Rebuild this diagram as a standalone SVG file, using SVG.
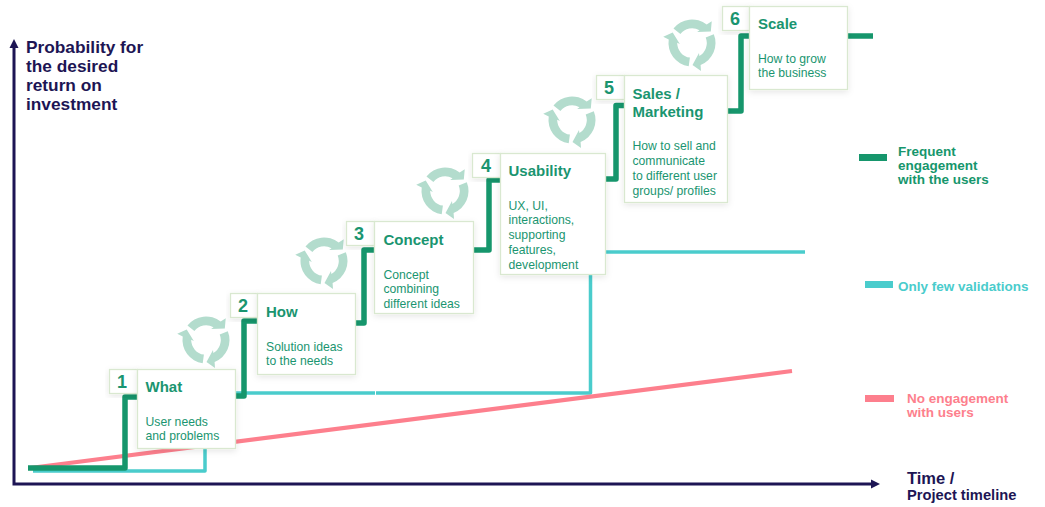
<svg xmlns="http://www.w3.org/2000/svg" xmlns:xlink="http://www.w3.org/1999/xlink" width="1045" height="507" viewBox="0 0 1045 507">
<style>
text{font-family:"Liberation Sans",Arial,sans-serif}
.box{fill:#fff;stroke:#d9e8d0;stroke-width:1.3;filter:url(#sh)}
.num{fill:#fff;stroke:#d9e8d0;stroke-width:1.3;filter:url(#sh)}
.n{font-size:18px;font-weight:700;fill:#1a9570;text-anchor:middle}
.t{font-size:15px;font-weight:700;fill:#1a9570}
.b{font-size:12.2px;fill:#1a9570}
.ax{font-weight:700;fill:#1d1554}
.lg{font-size:13.5px;font-weight:700}
.f,.v,.p{fill:none}
.f{stroke:#16966c;stroke-width:5.5;stroke-linejoin:round}
.v{stroke:#4acccc;stroke-width:3.5;stroke-linejoin:round}
.p{stroke:#fd7f8d;stroke-width:4.2}
.axis{fill:none;stroke:#1d1554;stroke-width:3;stroke-linejoin:miter}
.cy{fill:#b3dccd}
</style>
<defs>
<filter id="sh" x="-15%" y="-15%" width="130%" height="130%"><feDropShadow dx="0" dy="2" stdDeviation="3" flood-color="#000" flood-opacity="0.10"/></filter>
<marker id="ah" markerUnits="userSpaceOnUse" markerWidth="10" markerHeight="10" refX="1" refY="5" orient="auto"><path d="M0 0.500L9 5L0 9.500Z" fill="#1d1554"/></marker>
<g id="cyc"><path id="a1" class="cy" d="M21.800-8.800A23.500 23.500 0 0 1 8.600 21.900L9 28L0.500 22L7 10L7.300 12.900A14.800 14.800 0 0 0 13.700-5.500Z"/><use href="#a1" transform="rotate(120)"/><use href="#a1" transform="rotate(240)"/></g>
</defs>
<rect width="1045" height="507" fill="#fff"/>
<g id="axes">
<path class="axis" d="M14 47V484H872" marker-end="url(#ah)"/>
<path d="M14 39L18.500 48H9.500Z" fill="#1d1554"/>
</g>
<g id="connectors">
<path class="v" d="M33 471H205V448"/>
<path class="v" d="M235 393H375"/>
<path class="v" d="M376 393H590.500V274"/>
<path class="v" d="M605 252H805"/>
<path class="p" d="M30 468L792 371"/>
<path class="f" d="M28 468H125V397H138"/>
<path class="f" d="M235 396H244V321H258"/>
<path class="f" d="M355 323H364V250H375"/>
<path class="f" d="M473 250H489V180H501"/>
<path class="f" d="M605 179H616V105.500H625"/>
<path class="f" d="M727 111H741V36H750"/>
<path class="f" d="M847 36H873"/>
</g>
<g id="cycles">
<use href="#cyc" x="206" y="340"/>
<use href="#cyc" x="324" y="261"/>
<use href="#cyc" x="445" y="191"/>
<use href="#cyc" x="572" y="120"/>
<use href="#cyc" x="692" y="43"/>
</g>
<g id="node1">
<rect class="num" x="109.500" y="369.500" width="28" height="24"/>
<rect class="box" x="137.500" y="369.500" width="98" height="79"/>
<text class="n" x="122" y="388">1</text>
<text class="t" x="145.500" y="392">What</text>
<text class="b" x="145.500" y="426">User needs</text>
<text class="b" x="145.500" y="440">and problems</text>
</g>
<g id="node2">
<rect class="num" x="230.500" y="293.500" width="27" height="24"/>
<rect class="box" x="257.500" y="293.500" width="98" height="81"/>
<text class="n" x="243" y="312">2</text>
<text class="t" x="266" y="317">How</text>
<text class="b" x="266" y="351">Solution ideas</text>
<text class="b" x="266" y="365">to the needs</text>
</g>
<g id="node3">
<rect class="num" x="346.500" y="221.500" width="28" height="24"/>
<rect class="box" x="374.500" y="221.500" width="99" height="92"/>
<text class="n" x="359" y="240">3</text>
<text class="t" x="383.500" y="245">Concept</text>
<text class="b" x="383.500" y="279">Concept</text>
<text class="b" x="383.500" y="293">combining</text>
<text class="b" x="383.500" y="308">different ideas</text>
</g>
<g id="node4">
<rect class="num" x="472.500" y="153.500" width="28" height="24"/>
<rect class="box" x="500.500" y="153.500" width="105" height="121"/>
<text class="n" x="486" y="172">4</text>
<text class="t" x="508.500" y="176">Usability</text>
<text class="b" x="508.500" y="210">UX, UI,</text>
<text class="b" x="508.500" y="224">interactions,</text>
<text class="b" x="508.500" y="239">supporting</text>
<text class="b" x="508.500" y="254">features,</text>
<text class="b" x="508.500" y="269">development</text>
</g>
<g id="node5">
<rect class="num" x="596.500" y="75.500" width="28" height="24"/>
<rect class="box" x="624.500" y="75.500" width="103" height="127"/>
<text class="n" x="609" y="94">5</text>
<text class="t" x="632.500" y="99">Sales /</text>
<text class="t" x="632.500" y="117">Marketing</text>
<text class="b" x="632.500" y="150">How to sell and</text>
<text class="b" x="632.500" y="165">communicate</text>
<text class="b" x="632.500" y="180">to different user</text>
<text class="b" x="632.500" y="195">groups/ profiles</text>
</g>
<g id="node6">
<rect class="num" x="722.500" y="6.500" width="27" height="24"/>
<rect class="box" x="749.500" y="6.500" width="98" height="83"/>
<text class="n" x="735" y="25">6</text>
<text class="t" x="758" y="29">Scale</text>
<text class="b" x="758" y="63">How to grow</text>
<text class="b" x="758" y="77">the business</text>
</g>
<g id="axis-labels">
<text class="ax" font-size="17.300" x="26" y="53">Probability for</text>
<text class="ax" font-size="17.300" x="26" y="72">the desired</text>
<text class="ax" font-size="17.300" x="26" y="91">return on</text>
<text class="ax" font-size="17.300" x="26" y="109.500">investment</text>
<text class="ax" font-size="16.500" x="907" y="483.500">Time /</text>
<text class="ax" font-size="14.700" x="907" y="500">Project timeline</text>
</g>
<g id="legend">
<rect x="859" y="154" width="28" height="7" fill="#16966c"/>
<text class="lg" fill="#16966c" x="898" y="156">Frequent</text>
<text class="lg" fill="#16966c" x="898" y="170">engagement</text>
<text class="lg" fill="#16966c" x="898" y="184">with the users</text>
<rect x="865" y="281" width="28" height="7" fill="#4acccc"/>
<text class="lg" fill="#4acccc" x="898" y="291">Only few validations</text>
<rect x="865" y="395" width="29" height="7" fill="#fd7f8d"/>
<text class="lg" fill="#fd7f8d" x="907" y="403">No engagement</text>
<text class="lg" fill="#fd7f8d" x="907" y="417">with users</text>
</g>
</svg>
